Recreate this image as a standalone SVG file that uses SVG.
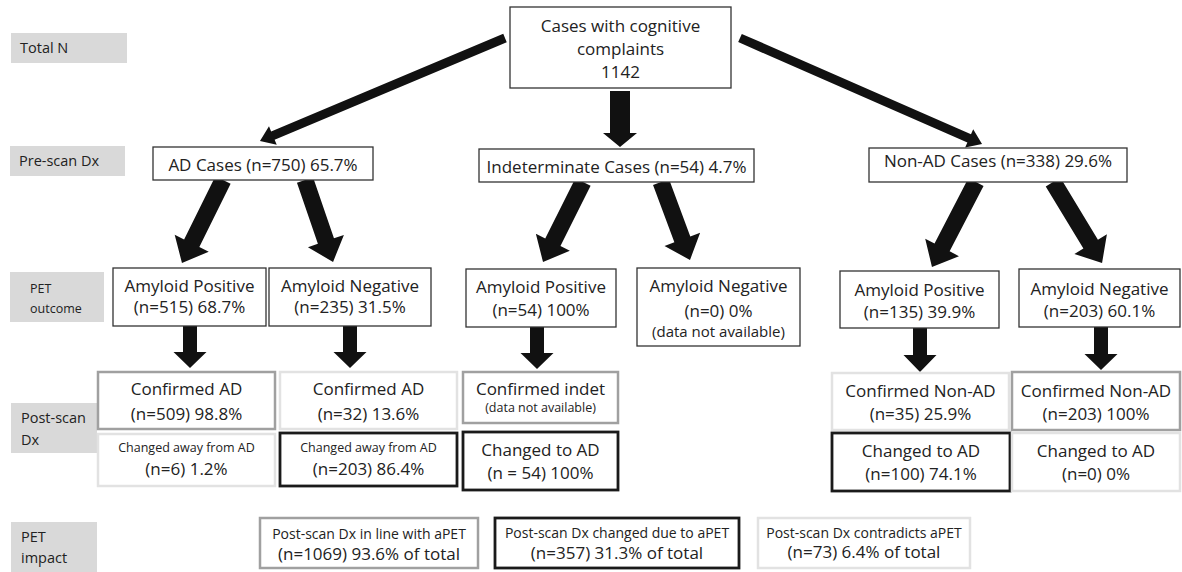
<svg xmlns="http://www.w3.org/2000/svg" width="1182" height="572" viewBox="0 0 1182 572">
<style>
text{font-family:"Open Sans","Noto Sans","DejaVu Sans",sans-serif;fill:#222;}
.t17{font-size:17px;text-anchor:middle;}
.t13{font-size:12.5px;text-anchor:middle;}
.t15{font-size:15px;text-anchor:middle;}
.t14{font-size:14px;text-anchor:middle;}
.lab{font-size:14.5px;}
.lab2{font-size:12.5px;}
.lb{fill:#d9d9d9;stroke:none;}
.bx{fill:#fff;stroke:#333;stroke-width:1.3;}
.g1{fill:#fff;stroke:#a0a0a0;stroke-width:2.5;}
.g2{fill:#fff;stroke:#e2e2e2;stroke-width:2.5;}
.k{fill:#fff;stroke:#1a1a1a;stroke-width:2.8;}
.ar{fill:#111;}
</style>

<g id="labels">
<rect class="lb" x="11" y="33" width="116" height="30"/>
<text class="lab" x="20" y="53">Total N</text>
<rect class="lb" x="10" y="146" width="115" height="30"/>
<text class="lab" x="19" y="166">Pre-scan Dx</text>
<rect class="lb" x="10" y="272" width="94" height="50"/>
<text class="lab2" x="30" y="293">PET</text>
<text class="lab2" x="30" y="313">outcome</text>
<rect class="lb" x="11" y="403" width="86" height="50"/>
<text class="lab" x="21" y="423">Post-scan</text>
<text class="lab" x="21" y="445">Dx</text>
<rect class="lb" x="11" y="522" width="86" height="50"/>
<text class="lab" x="21" y="542">PET</text>
<text class="lab" x="21" y="563">impact</text>
</g>

<g id="connectors">
<polygon class="ar" transform="translate(505,38) rotate(157.2)" points="0,-4.5 251.8,-4.5 251.8,-10 265.8,0 251.8,10 251.8,4.5 0,4.5"/>
<polygon class="ar" points="610,91 630,91 630,133 637,133 620,147 603,133 610,133"/>
<polygon class="ar" transform="translate(740,38) rotate(23.65)" points="0,-4.5 250.2,-4.5 250.2,-10 264.2,0 250.2,10 250.2,4.5 0,4.5"/>
<polygon class="ar" transform="translate(223,180) rotate(116.3)" points="0,-8.5 70.6,-8.5 70.6,-19 92.6,0 70.6,19 70.6,8.5 0,8.5"/>
<polygon class="ar" transform="translate(305,180) rotate(71.1)" points="0,-8.5 64.6,-8.5 64.6,-19 86.6,0 64.6,19 64.6,8.5 0,8.5"/>
<polygon class="ar" transform="translate(583,182) rotate(116.57)" points="0,-8.5 67.4,-8.5 67.4,-19 89.4,0 67.4,19 67.4,8.5 0,8.5"/>
<polygon class="ar" transform="translate(661,182) rotate(69.6)" points="0,-8.5 61.2,-8.5 61.2,-19 83.2,0 61.2,19 61.2,8.5 0,8.5"/>
<polygon class="ar" transform="translate(976,182) rotate(117.4)" points="0,-8.5 73.7,-8.5 73.7,-19 95.7,0 73.7,19 73.7,8.5 0,8.5"/>
<polygon class="ar" transform="translate(1053,182) rotate(58.8)" points="0,-8.5 72.7,-8.5 72.7,-19 94.7,0 72.7,19 72.7,8.5 0,8.5"/>
<polygon class="ar" points="183,326 197,326 197,352 206.5,352 190,368 173.5,352 183,352"/>
<polygon class="ar" points="343,326 357,326 357,352 366.5,352 350,368 333.5,352 343,352"/>
<polygon class="ar" points="530,327 544,327 544,353 553.5,353 537,369 520.5,353 530,353"/>
<polygon class="ar" points="913,328 927,328 927,355 936.5,355 920,372 903.5,355 913,355"/>
<polygon class="ar" points="1094,327 1108,327 1108,354 1117.5,354 1101,370 1084.5,354 1094,354"/>
</g>

<g id="n-total">
<rect class="bx" x="510" y="7" width="221" height="81"/>
<text class="t17" x="620.5" y="31.5">Cases with cognitive</text>
<text class="t17" x="620.5" y="55">complaints</text>
<text class="t17" x="620.5" y="78">1142</text>
</g>

<g id="n-ad">
<rect class="bx" x="153" y="147" width="220" height="33"/>
<text class="t17" x="263" y="171">AD Cases (n=750) 65.7%</text>
</g>
<g id="n-indet">
<rect class="bx" x="479" y="149" width="275" height="33"/>
<text class="t17" x="616.5" y="173">Indeterminate Cases (n=54) 4.7%</text>
</g>
<g id="n-nonad">
<rect class="bx" x="869" y="148" width="258" height="34"/>
<text class="t17" x="998" y="167">Non-AD Cases (n=338) 29.6%</text>
</g>

<g id="n-ad-pos">
<rect class="bx" x="113" y="268" width="153" height="58"/>
<text class="t17" x="189.5" y="292">Amyloid Positive</text>
<text class="t17" x="189.5" y="313">(n=515) 68.7%</text>
</g>
<g id="n-ad-neg">
<rect class="bx" x="269" y="268" width="162" height="58"/>
<text class="t17" x="350" y="292">Amyloid Negative</text>
<text class="t17" x="350" y="313">(n=235) 31.5%</text>
</g>
<g id="n-ind-pos">
<rect class="bx" x="466" y="269" width="150" height="58"/>
<text class="t17" x="541" y="293">Amyloid Positive</text>
<text class="t17" x="541" y="316">(n=54) 100%</text>
</g>
<g id="n-ind-neg">
<rect class="bx" x="637" y="268" width="163" height="78"/>
<text class="t17" x="718.5" y="292">Amyloid Negative</text>
<text class="t17" x="718.5" y="317">(n=0) 0%</text>
<text class="t15" x="718.5" y="337">(data not available)</text>
</g>
<g id="n-non-pos">
<rect class="bx" x="840" y="271" width="159" height="57"/>
<text class="t17" x="919.5" y="296">Amyloid Positive</text>
<text class="t17" x="919.5" y="318">(n=135) 39.9%</text>
</g>
<g id="n-non-neg">
<rect class="bx" x="1019" y="269" width="161" height="58"/>
<text class="t17" x="1099.5" y="295">Amyloid Negative</text>
<text class="t17" x="1099.5" y="317">(n=203) 60.1%</text>
</g>

<g id="p-ad-conf">
<rect class="g1" x="98" y="372" width="177" height="57"/>
<text class="t17" x="186.5" y="395">Confirmed AD</text>
<text class="t17" x="186.5" y="420">(n=509) 98.8%</text>
</g>
<g id="p-ad-chg">
<rect class="g2" x="98" y="434" width="177" height="52"/>
<text class="t13" x="186.5" y="452">Changed away from AD</text>
<text class="t17" x="186.5" y="475">(n=6) 1.2%</text>
</g>
<g id="p-neg-conf">
<rect class="g2" x="280" y="372" width="177" height="57"/>
<text class="t17" x="368.5" y="395">Confirmed AD</text>
<text class="t17" x="368.5" y="420">(n=32) 13.6%</text>
</g>
<g id="p-neg-chg">
<rect class="k" x="280" y="433" width="177" height="53"/>
<text class="t13" x="368.5" y="452">Changed away from AD</text>
<text class="t17" x="368.5" y="475">(n=203) 86.4%</text>
</g>
<g id="p-ind-conf">
<rect class="g1" x="463" y="372" width="155" height="51"/>
<text class="t17" x="540.5" y="395">Confirmed indet</text>
<text class="t13" x="540.5" y="412">(data not available)</text>
</g>
<g id="p-ind-chg">
<rect class="k" x="463" y="432" width="155" height="58"/>
<text class="t17" x="540.5" y="456">Changed to AD</text>
<text class="t17" x="540.5" y="479">(n = 54) 100%</text>
</g>
<g id="p-npos-conf">
<rect class="g2" x="832" y="373" width="177" height="57"/>
<text class="t17" x="920.5" y="397">Confirmed Non-AD</text>
<text class="t17" x="920.5" y="420">(n=35) 25.9%</text>
</g>
<g id="p-npos-chg">
<rect class="k" x="832" y="433" width="178" height="58"/>
<text class="t17" x="921" y="457">Changed to AD</text>
<text class="t17" x="921" y="480">(n=100) 74.1%</text>
</g>
<g id="p-nneg-conf">
<rect class="g1" x="1012" y="372" width="168" height="58"/>
<text class="t17" x="1096" y="397">Confirmed Non-AD</text>
<text class="t17" x="1096" y="420">(n=203) 100%</text>
</g>
<g id="p-nneg-chg">
<rect class="g2" x="1012" y="433" width="168" height="58"/>
<text class="t17" x="1096" y="457">Changed to AD</text>
<text class="t17" x="1096" y="480">(n=0) 0%</text>
</g>

<g id="i-inline">
<rect class="g1" x="260" y="518" width="218" height="50"/>
<text class="t14" x="369" y="539">Post-scan Dx in line with aPET</text>
<text class="t17" x="369" y="560">(n=1069) 93.6% of total</text>
</g>
<g id="i-changed">
<rect class="k" x="495" y="518" width="244" height="50"/>
<text class="t14" x="617" y="538">Post-scan Dx changed due to aPET</text>
<text class="t17" x="617" y="559">(n=357) 31.3% of total</text>
</g>
<g id="i-contra">
<rect class="g2" x="758" y="518" width="212" height="50"/>
<text class="t14" x="864" y="538">Post-scan Dx contradicts aPET</text>
<text class="t17" x="864" y="558">(n=73) 6.4% of total</text>
</g>
</svg>
